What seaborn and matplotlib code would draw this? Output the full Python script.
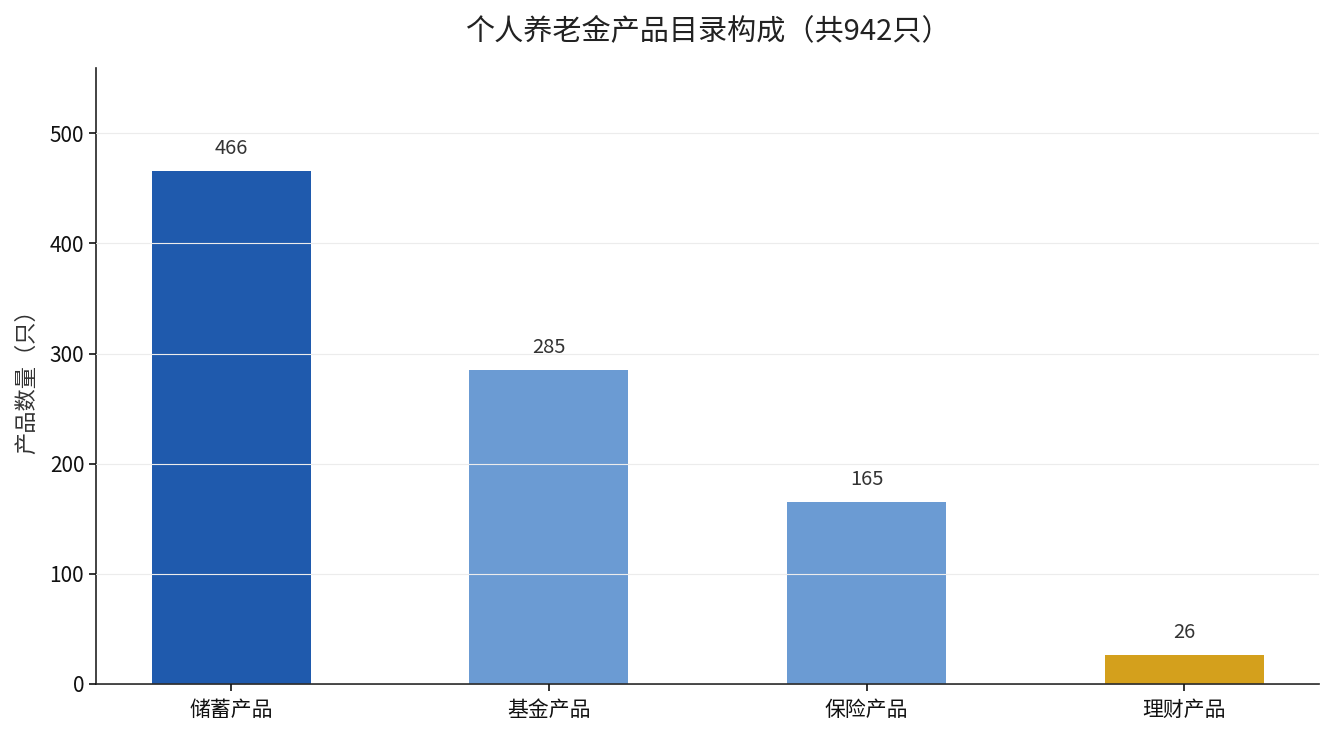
import numpy as np
import pandas as pd
import matplotlib
matplotlib.use("Agg")
import matplotlib.pyplot as plt
import seaborn as sns

categories = ["储蓄产品", "基金产品", "保险产品", "理财产品"]
counts = [466, 285, 165, 26]
bar_colors = ["#1f5aad", "#6b9bd3", "#6b9bd3", "#d4a01c"]

sns.set_style("white")
plt.rcParams['font.family'] = ['Noto Sans CJK SC', 'DejaVu Sans']

df = pd.DataFrame({"类别": categories, "数量": counts})

fig, ax = plt.subplots(figsize=(13.34, 7.35), dpi=100)
sns.barplot(data=df, x="类别", y="数量", hue="类别", palette=bar_colors,
            width=0.5, legend=False, ax=ax, saturation=1, linewidth=0)

# grid on top of the bars
ax.set_axisbelow(False)
ax.yaxis.grid(True, color="#ececec", linewidth=0.8)
ax.xaxis.grid(False)
ax.set_ylim(0, max(counts) * 1.2)
ax.set_xlim(-0.425, len(categories) - 1 + 0.425)
ax.set_yticks([0, 100, 200, 300, 400, 500])

for i, v in enumerate(counts):
    ax.text(i, v + 11, str(v), ha="center", va="bottom", fontsize=14.5, color="#333333")

ax.set_xlabel("")
ax.set_ylabel("产品数量（只）", fontsize=16, color="#333333", labelpad=8)
ax.set_title("个人养老金产品目录构成（共942只）", fontsize=21, color="#222222", pad=21)
ax.tick_params(axis="both", labelsize=15, colors="#111111", length=5, width=1.2,
               direction="out", bottom=True, left=True)
ax.tick_params(axis="x", pad=6)
for s in ["top", "right"]:
    ax.spines[s].set_visible(False)
for s in ["left", "bottom"]:
    ax.spines[s].set_color("#222222")
    ax.spines[s].set_linewidth(1.2)

fig.subplots_adjust(left=0.072, right=0.989, top=0.907, bottom=0.07)
fig.savefig("out.png", dpi=100)
